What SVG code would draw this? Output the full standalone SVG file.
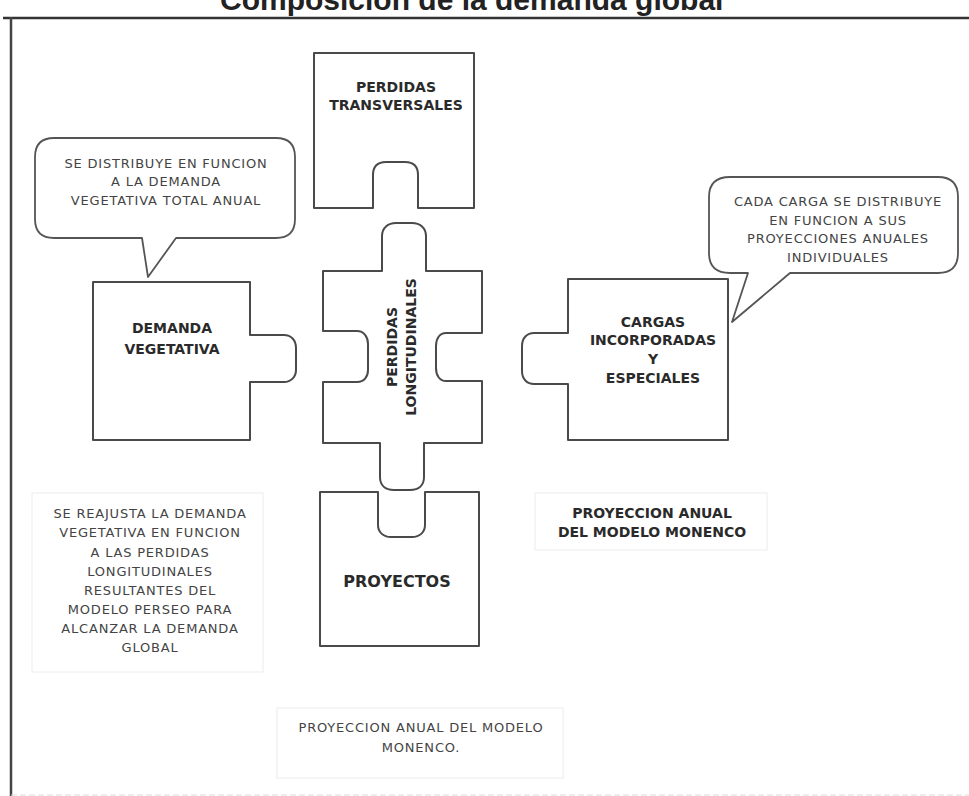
<svg xmlns="http://www.w3.org/2000/svg" width="969" height="796" viewBox="0 0 969 796">
<style>
.piece{fill:#fff;stroke:#4a4a4a;stroke-width:2;stroke-linejoin:round}
.bubble{fill:#fff;stroke:#555;stroke-width:1.8;stroke-linejoin:round}
.faint{fill:none;stroke:#ececec;stroke-width:1}
.lbl{font-family:"DejaVu Sans",Verdana,sans-serif;font-weight:bold;font-size:14px;fill:#2a2a2a;text-anchor:middle}
.t{font-family:"DejaVu Sans",Verdana,sans-serif;font-size:13px;letter-spacing:0.8px;fill:#444;text-anchor:middle}
.title{font-family:"Liberation Sans",Arial,sans-serif;font-weight:bold;font-size:30px;fill:#222}
</style>
<rect width="969" height="796" fill="#fff"/>
<text class="title" x="220" y="10">Composición de la demanda global</text>
<g id="frame">
<line x1="3" y1="18" x2="969" y2="18" stroke="#333" stroke-width="2.5"/>
<line x1="11" y1="17" x2="11" y2="796" stroke="#444" stroke-width="2.5"/>
<line x1="11" y1="795" x2="969" y2="795" stroke="#ddd" stroke-width="1" stroke-dasharray="6 3"/>
</g>
<g id="connectors"></g>
<g id="perdidas-transversales">
<path class="piece" d="M314,53 H474 V208 H418 V175 C418,166 414,162 405,162 H386 C377,162 373,166 373,175 V208 H314 Z"/>
<text class="lbl" x="396" y="92">PERDIDAS</text>
<text class="lbl" x="396" y="110">TRANSVERSALES</text>
</g>
<g id="perdidas-longitudinales">
<path class="piece" d="M323,271 H382 V236 C382,228 388,223 396,223 H412 C420,223 426,228 426,236 V271 H482 V333 H446 C440,333 436,338 436,346 V368 C436,376 440,381 446,381 H482 V443 H424 V477 C424,485 419,490 410,490 H394 C385,490 380,485 380,477 V443 H323 V382 H357 C364,382 368,377 368,370 V344 C368,337 364,331 357,331 H323 Z"/>
<text class="lbl" transform="translate(397,347) rotate(-90)">PERDIDAS</text>
<text class="lbl" transform="translate(416,347) rotate(-90)">LONGITUDINALES</text>
</g>
<g id="demanda-vegetativa">
<path class="piece" d="M93,282 H250 V335 H284 C291,335 296,340 296,348 V370 C296,377 291,382 284,382 H250 V440 H93 Z"/>
<text class="lbl" x="172" y="333">DEMANDA</text>
<text class="lbl" x="172" y="354">VEGETATIVA</text>
</g>
<g id="cargas">
<path class="piece" d="M568,279 H728 V440 H568 V384 H534 C527,384 522,379 522,371 V346 C522,338 527,333 534,333 H568 Z"/>
<text class="lbl" x="653" y="327">CARGAS</text>
<text class="lbl" x="653" y="345">INCORPORADAS</text>
<text class="lbl" x="653" y="364">Y</text>
<text class="lbl" x="653" y="383">ESPECIALES</text>
</g>
<g id="proyectos">
<path class="piece" d="M320,492 H378 V525 C378,532 383,537 391,537 H412 C420,537 425,532 425,525 V492 H479 V646 H320 Z"/>
<text class="lbl" x="397" y="587" style="font-size:16px">PROYECTOS</text>
</g>
<g id="callout-demanda">
<path class="bubble" d="M54,138 H276 Q295,138 295,157 V219 Q295,238 276,238 H176 L148,277 L142,238 H54 Q35,238 35,219 V157 Q35,138 54,138 Z"/>
<text class="t" x="166" y="168">SE DISTRIBUYE EN FUNCION</text>
<text class="t" x="166" y="186">A LA  DEMANDA</text>
<text class="t" x="166" y="205">VEGETATIVA TOTAL ANUAL</text>
</g>
<g id="callout-cargas">
<path class="bubble" d="M730,177 H938 Q958,177 958,197 V253 Q958,273 938,273 H790 L732,322 L748,273 H730 Q709,273 709,253 V197 Q709,177 730,177 Z"/>
<text class="t" x="838" y="206">CADA CARGA SE DISTRIBUYE</text>
<text class="t" x="838" y="225">EN FUNCION A SUS</text>
<text class="t" x="838" y="243">PROYECCIONES ANUALES</text>
<text class="t" x="838" y="262">INDIVIDUALES</text>
</g>
<g id="nota-reajuste">
<rect class="faint" x="32" y="493" width="231" height="179"/>
<text class="t" x="150" y="518">SE REAJUSTA LA DEMANDA</text>
<text class="t" x="150" y="537">VEGETATIVA EN FUNCION</text>
<text class="t" x="150" y="557">A LAS PERDIDAS</text>
<text class="t" x="150" y="576">LONGITUDINALES</text>
<text class="t" x="150" y="595">RESULTANTES DEL</text>
<text class="t" x="150" y="614">MODELO PERSEO PARA</text>
<text class="t" x="150" y="633">ALCANZAR LA DEMANDA</text>
<text class="t" x="150" y="652">GLOBAL</text>
</g>
<g id="nota-monenco-cargas">
<rect class="faint" x="535" y="493" width="232" height="57"/>
<text class="lbl" x="652" y="518">PROYECCION ANUAL</text>
<text class="lbl" x="652" y="537">DEL MODELO MONENCO</text>
</g>
<g id="nota-monenco-proyectos">
<rect class="faint" x="277" y="708" width="286" height="70"/>
<text class="t" x="421" y="732">PROYECCION ANUAL DEL MODELO</text>
<text class="t" x="421" y="752">MONENCO.</text>
</g>
</svg>
